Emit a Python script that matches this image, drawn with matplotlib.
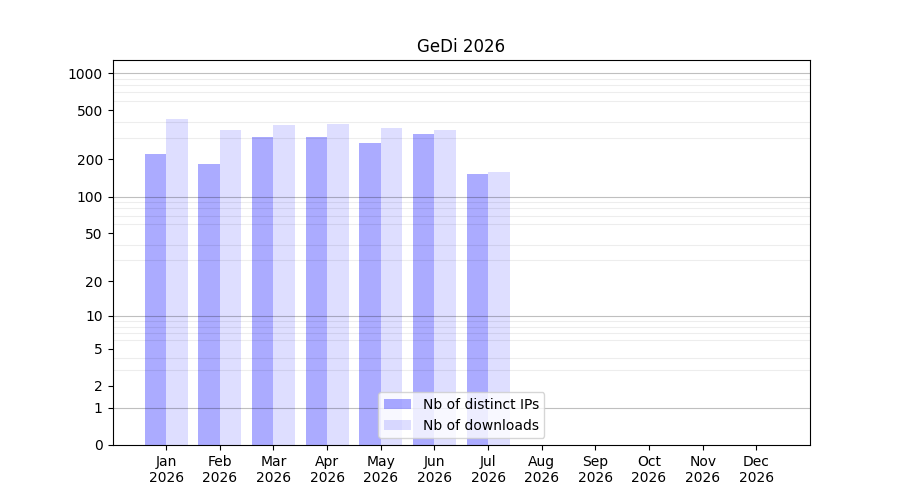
import numpy as np
import matplotlib
matplotlib.use("Agg")
import matplotlib.pyplot as plt

# valores
months = ['Jan', 'Feb', 'Mar', 'Apr', 'May', 'Jun', 'Jul', 'Aug', 'Sep', 'Oct', 'Nov', 'Dec']
year = '2026'
distinct_ips = [222, 184, 304, 304, 272, 321, 152, 0, 0, 0, 0, 0]
downloads = [425, 347, 380, 387, 359, 347, 158, 0, 0, 0, 0, 0]
ytick_vals = [0, 1, 2, 5, 10, 20, 50, 100, 200, 500, 1000]

def fwd(v):
    return np.log10(1 + np.maximum(v, 0))

def inv(v):
    return 10 ** v - 1

fig, ax = plt.subplots(figsize=(9, 5), dpi=100)
x = np.arange(len(months))
w = 0.4
ax.bar(x - w / 2, distinct_ips, w, color='blue', alpha=0.33, label='Nb of distinct IPs')
ax.bar(x + w / 2, downloads, w, color='blue', alpha=0.13, label='Nb of downloads')

ax.set_yscale('function', functions=(fwd, inv))
ax.set_ylim(0, max(downloads) * 3)
ax.set_xlim(-1, 12)

ax.set_yticks(ytick_vals)
ax.set_yticklabels([str(v) for v in ytick_vals])
minor = [m * 10 ** k for k in range(0, 4) for m in range(2, 10)]
minor = [v for v in minor if v < max(downloads) * 3]
ax.set_yticks(minor, minor=True)
ax.tick_params(axis='y', which='minor', length=0)
ax.grid(axis='y', which='minor', color='k', alpha=0.07, lw=0.8)
for d in [1, 10, 100, 1000]:
    ax.axhline(d, color='k', alpha=0.25, lw=0.8, zorder=1.5)

ax.set_xticks(x)
ax.set_xticklabels([m + '\n' + year for m in months])
ax.set_title('GeDi ' + year)
ax.legend(loc='lower center')

plt.savefig('out.png')
